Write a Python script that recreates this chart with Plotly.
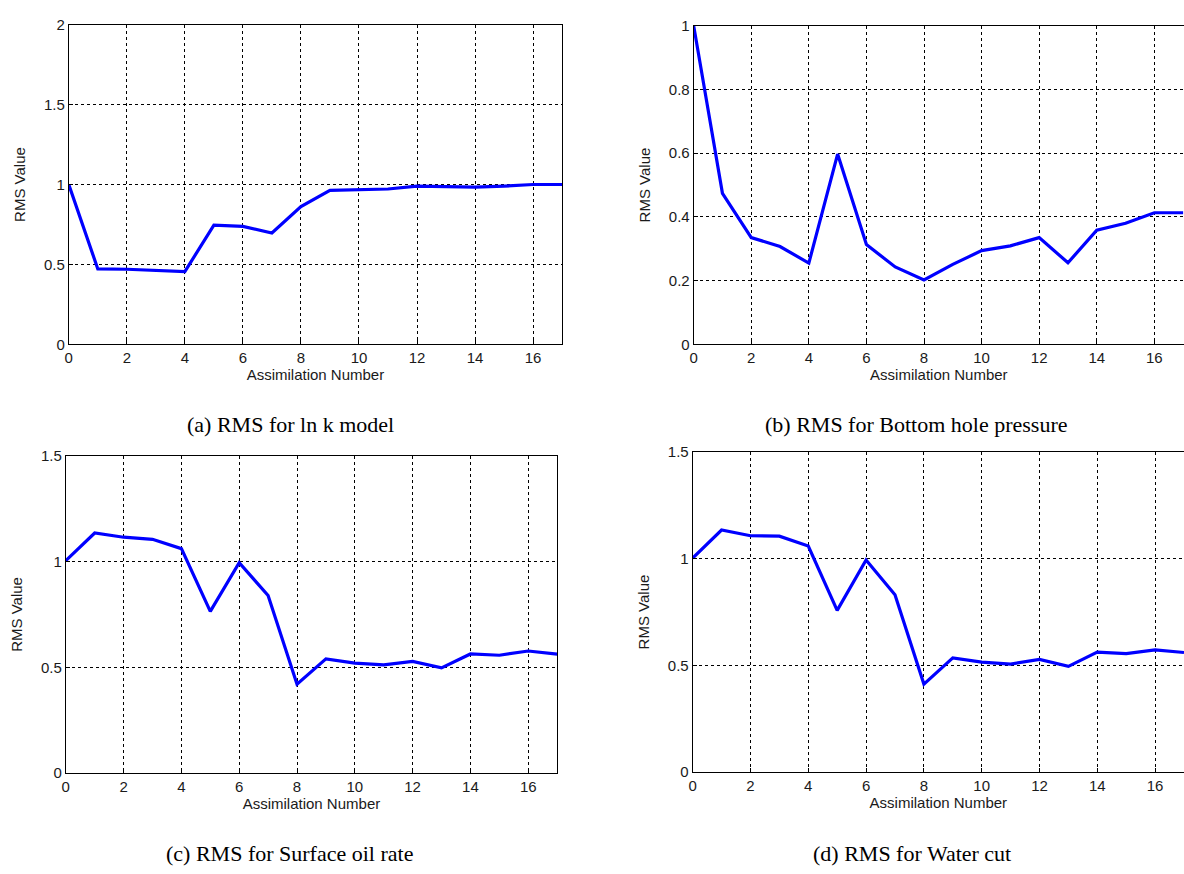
import plotly.graph_objects as go

# ---------------- data ----------------
assim = list(range(18))
rms_lnk = [1.0, 0.472, 0.47, 0.465, 0.455, 0.746, 0.738, 0.697, 0.862, 0.963,
           0.97, 0.972, 0.99, 0.985, 0.984, 0.99, 1.0, 1.0]
rms_bhp = [1.0, 0.474, 0.335, 0.307, 0.255, 0.597, 0.313, 0.243, 0.202, 0.251,
           0.294, 0.309, 0.335, 0.256, 0.358, 0.38, 0.413, 0.413]
rms_oil = [1.005, 1.136, 1.116, 1.106, 1.062, 0.765, 0.995, 0.84, 0.42, 0.54,
           0.52, 0.511, 0.528, 0.497, 0.563, 0.557, 0.577, 0.562]
rms_wct = [1.003, 1.135, 1.108, 1.106, 1.06, 0.758, 0.994, 0.831, 0.412, 0.535,
           0.515, 0.506, 0.528, 0.495, 0.562, 0.555, 0.572, 0.56]

x_ticks = [0, 2, 4, 6, 8, 10, 12, 14, 16]
y_ticks_a = [0, 0.5, 1, 1.5, 2]
y_ticks_b = [0, 0.2, 0.4, 0.6, 0.8, 1]
y_ticks_cd = [0, 0.5, 1, 1.5]

captions = ["(a) RMS for ln k model", "(b) RMS for Bottom hole pressure",
            "(c) RMS for Surface oil rate", "(d) RMS for Water cut"]

W, H = 1184, 874
TICK_FONT = dict(family="Liberation Sans, Arial", size=15, color="#1a1a1a")
CAP_FONT = dict(family="Liberation Serif, Times New Roman, serif", size=22, color="black")


def px_x(p):
    return p / W


def py(p):
    return 1 - p / H


fig = go.Figure()
series = [rms_lnk, rms_bhp, rms_oil, rms_wct]
for i, s in enumerate(series):
    suffix = "" if i == 0 else str(i + 1)
    fig.add_trace(go.Scatter(x=assim, y=s, mode="lines",
                             line=dict(color="#0000ff", width=3.2),
                             xaxis="x" + suffix, yaxis="y" + suffix,
                             showlegend=False, hoverinfo="skip"))

# panel geometry in pixels: (left, right, top, bottom, xmax, yticks, yrange, mirror_y)
panels = [
    (65, 560, 16, 342, 17, y_ticks_a, [0, 2], True),
    (692, 1184, 17, 342, 17.03, y_ticks_b, [0, 1], False),
    (62, 555, 456, 779, 17, y_ticks_cd, [0, 1.5], True),
    (691, 1184, 452, 778, 17.0, y_ticks_cd, [0, 1.5], False),
]

layout = {}
for i, (l, r, t, b, xmax, yt, yr, mir) in enumerate(panels):
    suffix = "" if i == 0 else str(i + 1)
    layout["xaxis" + suffix] = dict(
        domain=[px_x(l), px_x(r)], range=[0, xmax], anchor="y" + suffix,
        tickvals=x_ticks, ticktext=[str(v) for v in x_ticks],
        showgrid=True, gridcolor="black", gridwidth=1, griddash="3px,3px",
        showline=True, linecolor="black", linewidth=1, mirror=True,
        ticks="inside", ticklen=4, tickcolor="black",
        tickfont=TICK_FONT, zeroline=False,
        title=dict(text="Assimilation Number", font=TICK_FONT, standoff=4),
    )
    layout["yaxis" + suffix] = dict(
        domain=[py(b), py(t)], range=yr, anchor="x" + suffix,
        tickvals=yt, ticktext=[("%g" % v) for v in yt],
        showgrid=True, gridcolor="black", gridwidth=1, griddash="3px,3px",
        showline=True, linecolor="black", linewidth=1, mirror=mir,
        ticks="inside", ticklen=4, tickcolor="black",
        tickfont=TICK_FONT, zeroline=False,
        title=dict(text="RMS Value", font=TICK_FONT, standoff=14),
    )

annotations = []
cap_pos = [(287, 424), (915, 424), (286, 861), (911, 861)]
for txt, (cx, cy) in zip(captions, cap_pos):
    annotations.append(dict(text=txt, x=px_x(cx), y=py(cy), xref="paper", yref="paper",
                            xanchor="center", yanchor="middle", showarrow=False,
                            font=CAP_FONT))

fig.update_layout(
    width=W, height=H, margin=dict(l=0, r=0, t=0, b=0),
    paper_bgcolor="white", plot_bgcolor="white",
    annotations=annotations, **layout,
)

fig.write_html("out.html", config={"displayModeBar": False},
               post_script="document.body.style.margin='0';document.body.style.padding='0';")
